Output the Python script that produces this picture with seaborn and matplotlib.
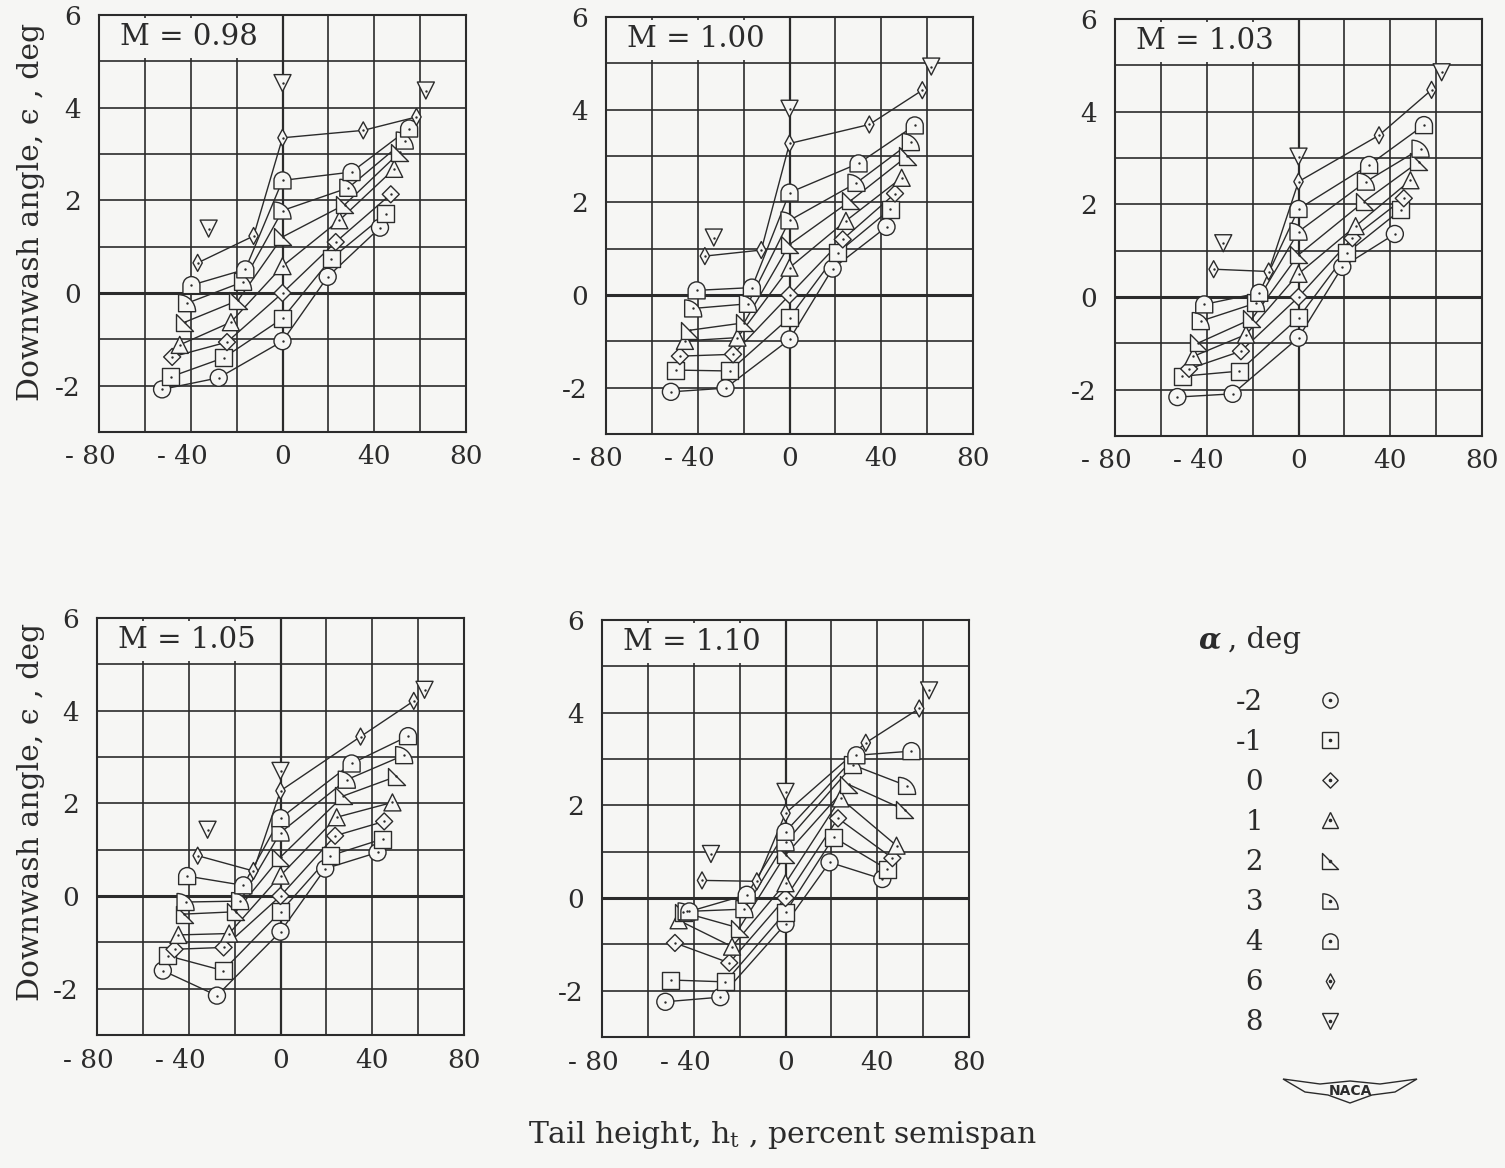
import numpy as np
import pandas as pd
import seaborn as sns
import matplotlib.pyplot as plt
from matplotlib.path import Path
from matplotlib.lines import Line2D
from matplotlib.patches import Rectangle, Polygon
from matplotlib.transforms import ScaledTranslation

MACH = ['0.98', '1.00', '1.03', '1.05', '1.10']
ALPHAS = [-2, -1, 0, 1, 2, 3, 4, 6, 8]

# tail height h_t (percent semispan), one list per angle of attack
h_098 = [
  [-52.5, -27.8, 0, 19.7, 42.5],
  [-48.8, -25.7, 0, 21.2, 45.1],
  [-48.1, -24.2, 0, 23.2, 47.2],
  [-44.8, -22.5, 0, 24.8, 48.7],
  [-42.6, -19.4, 0, 27.2, 51.2],
  [-41.6, -17.2, 0, 28.7, 53.3],
  [-39.7, -16.2, 0, 30.1, 55.2],
  [-37.0, -12.6, 0, 35.2, 58.4],
  [-32.2, 0, 62.5],
]
# downwash angle (deg)
eps_098 = [
  [-2.08, -1.83, -1.04, 0.35, 1.41],
  [-1.81, -1.40, -0.55, 0.74, 1.71],
  [-1.38, -1.06, 0.00, 1.10, 2.13],
  [-1.12, -0.63, 0.58, 1.57, 2.68],
  [-0.63, -0.16, 1.21, 1.91, 3.04],
  [-0.22, 0.24, 1.78, 2.27, 3.29],
  [0.17, 0.51, 2.43, 2.61, 3.55],
  [0.65, 1.23, 3.35, 3.51, 3.80],
  [1.39, 4.53, 4.37],
]

h_100 = [
  [-51.7, -27.9, 0, 18.8, 42.3],
  [-49.7, -26.1, 0, 21.0, 43.9],
  [-47.8, -24.6, 0, 23.2, 46.0],
  [-45.6, -22.7, 0, 24.6, 48.9],
  [-43.4, -19.8, 0, 26.8, 51.4],
  [-42.0, -18.1, 0, 29.2, 52.9],
  [-40.5, -16.4, 0, 30.1, 54.6],
  [-36.9, -12.3, 0, 34.8, 57.9],
  [-33.0, 0, 61.8],
]
eps_100 = [
  [-2.09, -2.01, -0.96, 0.57, 1.47],
  [-1.62, -1.64, -0.49, 0.91, 1.85],
  [-1.32, -1.28, 0.00, 1.20, 2.19],
  [-0.99, -0.92, 0.59, 1.60, 2.53],
  [-0.76, -0.60, 1.09, 2.04, 3.00],
  [-0.29, -0.19, 1.61, 2.42, 3.30],
  [0.10, 0.16, 2.21, 2.84, 3.66],
  [0.84, 0.97, 3.27, 3.68, 4.42],
  [1.24, 4.02, 4.93],
]

h_103 = [
  [-52.8, -28.7, 0, 19.1, 42.0],
  [-50.6, -25.8, 0, 21.1, 44.6],
  [-47.7, -25.1, 0, 23.5, 45.9],
  [-45.8, -22.9, 0, 24.9, 48.8],
  [-43.6, -20.3, 0, 28.6, 52.5],
  [-42.6, -18.5, 0, 29.4, 53.2],
  [-41.1, -17.1, 0, 30.8, 54.7],
  [-37.0, -13.0, 0, 35.1, 58.0],
  [-32.8, 0, 62.4],
]
eps_103 = [
  [-2.16, -2.09, -0.88, 0.65, 1.36],
  [-1.71, -1.60, -0.45, 0.95, 1.88],
  [-1.55, -1.17, 0.00, 1.27, 2.13],
  [-1.28, -0.81, 0.50, 1.53, 2.52],
  [-0.99, -0.47, 0.91, 2.06, 2.92],
  [-0.52, -0.13, 1.41, 2.49, 3.20],
  [-0.16, 0.09, 1.90, 2.85, 3.71],
  [0.60, 0.55, 2.49, 3.49, 4.47],
  [1.16, 3.03, 4.85],
]

h_105 = [
  [-51.3, -27.7, 0, 19.5, 42.3],
  [-49.1, -25.0, 0, 21.7, 44.5],
  [-46.2, -24.8, 0, 23.8, 45.2],
  [-44.5, -22.4, 0, 24.5, 48.8],
  [-41.9, -19.5, 0, 27.4, 50.5],
  [-41.4, -17.6, 0, 28.9, 53.9],
  [-40.7, -16.2, 0, 31.0, 55.6],
  [-36.1, -11.8, 0, 34.9, 58.1],
  [-31.8, 0, 62.8],
]
eps_105 = [
  [-1.61, -2.15, -0.77, 0.59, 0.94],
  [-1.29, -1.61, -0.34, 0.87, 1.23],
  [-1.15, -1.11, 0.00, 1.30, 1.61],
  [-0.84, -0.81, 0.44, 1.70, 2.02],
  [-0.39, -0.34, 0.84, 2.16, 2.58],
  [-0.13, -0.11, 1.37, 2.51, 3.04],
  [0.43, 0.23, 1.68, 2.86, 3.45],
  [0.87, 0.54, 2.27, 3.44, 4.21],
  [1.43, 2.70, 4.45],
]

h_110 = [
  [-52.4, -28.4, 0, 19.2, 42.2],
  [-50.0, -26.2, 0, 21.0, 44.4],
  [-48.2, -24.5, 0, 22.9, 46.6],
  [-46.6, -23.3, 0, 24.0, 48.4],
  [-44.6, -20.1, 0, 27.5, 52.0],
  [-43.1, -17.9, 0, 29.4, 53.0],
  [-41.9, -16.9, 0, 30.9, 54.9],
  [-36.4, -12.5, 0, 35.0, 58.3],
  [-32.5, 0, 62.6],
]
eps_110 = [
  [-2.24, -2.14, -0.56, 0.77, 0.41],
  [-1.77, -1.81, -0.31, 1.31, 0.62],
  [-0.97, -1.40, 0.00, 1.72, 0.86],
  [-0.48, -1.05, 0.32, 2.15, 1.13],
  [-0.31, -0.65, 0.93, 2.45, 1.90],
  [-0.29, -0.24, 1.20, 2.87, 2.42],
  [-0.29, 0.07, 1.43, 3.08, 3.17],
  [0.38, 0.36, 1.83, 3.35, 4.09],
  [0.95, 2.29, 4.48],
]

TAIL = [h_098, h_100, h_103, h_105, h_110]
EPS = [eps_098, eps_100, eps_103, eps_105, eps_110]

X_TICKS = [-80, -40, 0, 40, 80]
X_LABELS = ['- 80', '- 40', '0', '40', '80']
Y_TICKS = [-2, 0, 2, 4, 6]
Y_LABELS = ['-2', '0', '2', '4', '6']

INK = '#2b2b2b'
PAPER = '#f6f6f4'
W, H = 1505, 1168
# top-left corner of each panel, in pixels
PANEL_PX = [(99, 15), (606, 17), (1115, 19), (97, 618), (602, 620)]
PW, PH = 367, 417


def closed(verts):
  verts = list(verts) + [verts[0]]
  codes = [Path.MOVETO] + [Path.LINETO] * (len(verts) - 2) + [Path.CLOSEPOLY]
  return Path(verts, codes)


def quarter():
  arc = Path.arc(0, 90)
  verts = [(-1, -1)] + [(2 * x - 1, 2 * y - 1) for x, y in arc.vertices] + [(-1, -1)]
  codes = [Path.MOVETO, Path.LINETO] + list(arc.codes[1:]) + [Path.CLOSEPOLY]
  return Path(verts, codes)


def dome():
  arc = Path.arc(0, 180)
  verts = [(-1, -1), (1, -1)] + [tuple(v) for v in arc.vertices] + [(-1, -1)]
  codes = [Path.MOVETO, Path.LINETO, Path.LINETO] + list(arc.codes[1:]) + [Path.CLOSEPOLY]
  return Path(verts, codes)


MARKERS = {
  -2: 'o',
  -1: 's',
  0: closed([(0, 1), (1, 0), (0, -1), (-1, 0)]),
  1: '^',
  2: closed([(-1, 1), (-1, -1), (1, -1)]),
  3: quarter(),
  4: dome(),
  6: closed([(0, 1), (0.55, 0), (0, -1), (-0.55, 0)]),
  8: 'v',
}


def panel_frame(tail, eps):
  rows = []
  for a, hs, es in zip(ALPHAS, tail, eps):
    for h, e in zip(hs, es):
      rows.append((a, h, e))
  return pd.DataFrame(rows, columns=['alpha', 'h', 'eps'])


sns.set_style('white')
plt.rcParams['font.family'] = ['DejaVu Serif']
plt.rcParams['mathtext.fontset'] = 'dejavuserif'

fig = plt.figure(figsize=(W / 100, H / 100), dpi=100, facecolor=PAPER)
shift = ScaledTranslation(-0.085, 0, fig.dpi_scale_trans)

for i, mach in enumerate(MACH):
  left, top = PANEL_PX[i]
  ax = fig.add_axes([left / W, 1 - (top + PH) / H, PW / W, PH / H])
  ax.set_facecolor(PAPER)
  ax.set_axisbelow(True)

  df = panel_frame(TAIL[i], EPS[i])
  # the 8 deg points are not faired
  sns.lineplot(data=df[df.alpha != 8], x='h', y='eps', units='alpha', estimator=None,
               color=INK, lw=1.0, legend=False, zorder=2, ax=ax)
  sns.scatterplot(data=df, x='h', y='eps', style='alpha', markers=MARKERS, s=150,
                  color=PAPER, edgecolor=INK, linewidth=1.0, legend=False, zorder=3, ax=ax)
  sns.scatterplot(data=df, x='h', y='eps', marker='o', s=3, color=INK, linewidth=0,
                  legend=False, zorder=4, ax=ax)

  ax.set_xlim(-80, 80)
  ax.set_ylim(-3, 6)
  ax.set_xticks(X_TICKS, X_LABELS)
  ax.set_xticks(np.arange(-80, 81, 20), minor=True)
  ax.set_yticks(Y_TICKS, Y_LABELS)
  ax.set_yticks(np.arange(-3, 7, 1), minor=True)
  ax.grid(which='both', color=INK, lw=1.2)
  ax.axhline(0, color=INK, lw=2.2, zorder=1)
  ax.axvline(0, color=INK, lw=1.6, zorder=1)
  ax.tick_params(which='both', length=0, labelsize=19, labelcolor=INK)
  ax.tick_params(axis='x', pad=9)
  ax.tick_params(axis='y', pad=13)
  ax.set_xlabel('')
  ax.set_ylabel('')
  for s in ax.spines.values():
    s.set_color(INK)
    s.set_linewidth(1.5)
  for lab in ax.get_xticklabels():
    if lab.get_text().startswith('-'):
      lab.set_transform(lab.get_transform() + shift)

  ax.add_patch(Rectangle((-79.4, 5.07), 78.8, 0.86, fc=PAPER, ec='none', zorder=1.5))
  ax.text(-71, 5.53, f'M = {mach}', fontsize=21, color=INK, ha='left', va='center', zorder=5)

ylab = 'Downwash angle, \u03f5 , deg'
fig.text(31 / W, 1 - 212 / H, ylab, rotation=90, ha='center', va='center', fontsize=21.5, color=INK)
fig.text(31 / W, 1 - 812 / H, ylab, rotation=90, ha='center', va='center', fontsize=21.5, color=INK)
fig.text(783 / W, 1 - 1135 / H, r'Tail height, h$_{\rm t}$ , percent semispan',
         ha='center', va='center', fontsize=21.5, color=INK)

# key
fig.text(1199 / W, 1 - 640 / H, '\u03b1', fontsize=21, fontweight='bold', style='italic',
         color=INK, ha='left', va='center')
fig.text(1228 / W, 1 - 640 / H, ', deg', fontsize=21, color=INK, ha='left', va='center')
handles = [
  (Line2D([], [], ls='none', marker=MARKERS[a], markersize=11, mfc=PAPER, mec=INK, mew=1.0),
   Line2D([], [], ls='none', marker='o', markersize=1.6, mfc=INK, mec=INK))
  for a in ALPHAS
]
labels = [str(a) if a < 0 else '\u2008' + str(a) for a in ALPHAS]
fig.legend(handles, labels, loc='upper left', bbox_to_anchor=(1236 / W, 1 - 689 / H),
           frameon=False, markerfirst=False, handlelength=1.0, handletextpad=1.9,
           labelspacing=0.47, fontsize=20, borderpad=0, borderaxespad=0, labelcolor=INK)

# NACA wings
wing_px = [(1283, 1079), (1320, 1084), (1350, 1081), (1380, 1084), (1417, 1079), (1395, 1092),
           (1372, 1095), (1350, 1103), (1328, 1095), (1305, 1092)]
fig.add_artist(Polygon([(x / W, 1 - y / H) for x, y in wing_px], closed=True, fill=False,
                       ec=INK, lw=1.0, transform=fig.transFigure))
fig.text(1350 / W, 1 - 1091 / H, 'NACA', fontsize=10, family='DejaVu Sans', fontweight='bold',
         color=INK, ha='center', va='center')

fig.savefig('out.png', dpi=100, facecolor=PAPER)
